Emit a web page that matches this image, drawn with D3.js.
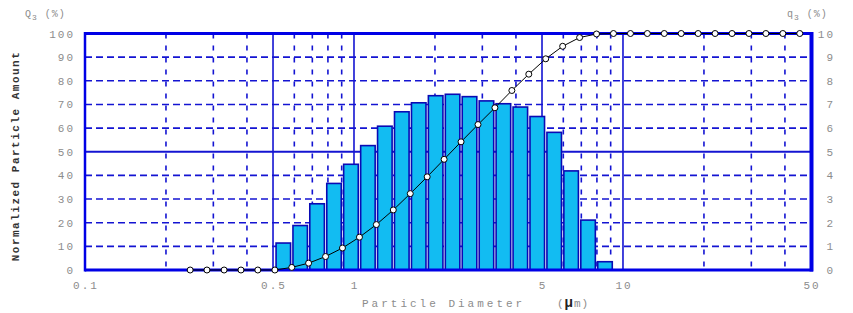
<!DOCTYPE html>
<html>
<head>
<meta charset="utf-8">
<script src="https://cdn.jsdelivr.net/npm/d3@7"></script>
<style>
html,body{margin:0;padding:0;background:#fff;}
svg{display:block;}
</style>
</head>
<body>
<svg id="chart" width="853" height="313"></svg>
<script>
// ---- data ----
// bin edges (µm) where the cumulative points sit
const binEdges = [0.246,0.284,0.329,0.380,0.439,0.508,0.587,0.678,0.784,0.906,
  1.048,1.211,1.400,1.619,1.871,2.163,2.500,2.891,3.341,3.863,
  4.465,5.162,5.967,6.898,7.974,9.218,10.66,12.32,14.24,16.46,
  19.03,22.00,25.43,29.40,33.98,39.29,45.41];
// cumulative Q3 (%) at each edge
const cumulativeQ3 = [0,0,0,0,0,0,1.1,2.9,5.7,9.3,
  13.9,19.2,25.4,32.3,39.4,46.8,54.2,61.5,68.6,75.9,
  82.8,89.3,94.6,98.3,99.8,100,100,100,100,100,
  100,100,100,100,100,100,100];
// histogram bins: lower / upper edge and q3 (%) value (right axis 0-10)
const barLower = [0.508,0.587,0.678,0.784,0.906,1.048,1.211,1.400,1.619,1.871,
  2.163,2.500,2.891,3.341,3.863,4.465,5.162,5.967,6.898,7.974];
const barUpper = [0.587,0.678,0.784,0.906,1.048,1.211,1.400,1.619,1.871,2.163,
  2.500,2.891,3.341,3.863,4.465,5.162,5.967,6.898,7.974,9.218];
const barQ3 = [1.14,1.88,2.80,3.66,4.47,5.26,6.08,6.69,7.07,7.37,
  7.43,7.33,7.15,7.03,6.89,6.49,5.82,4.19,2.11,0.35];
// axes
const xTickValues = [0.1,0.5,1,5,10,50];
const xTickLabels = ["0.1","0.5","1","5","10","50"];
const xSolidGrid = [0.5,1,5,10];
const xDashGrid = [0.2,0.3,0.4,0.6,0.7,0.8,0.9,2,3,4,6,7,8,9,20,30,40];
const yLeftTicks = [0,10,20,30,40,50,60,70,80,90,100];
const yRightTicks = [0,1,2,3,4,5,6,7,8,9,10];
const ySolidGrid = [50];
const yDashGrid = [10,20,30,40,60,70,80,90];

// ---- layout ----
const L = 85, R = 811, T = 33.5, B = 270;
const x = d3.scaleLog().domain([0.1,50]).range([L,R]);
const y = d3.scaleLinear().domain([0,100]).range([B,T]);
const yR = d3.scaleLinear().domain([0,10]).range([B,T]);

const svg = d3.select("#chart");
const gridColor = "#1414d2";
const mono = "'Liberation Mono','DejaVu Sans Mono',monospace";
const textGrey = "#8c8c8c";

// grid
const g = svg.append("g");
g.selectAll("line.vd").data(xDashGrid).enter().append("line")
  .attr("x1",d=>x(d)).attr("x2",d=>x(d)).attr("y1",T).attr("y2",B)
  .attr("stroke",gridColor).attr("stroke-width",1.6).attr("stroke-dasharray","5,7");
g.selectAll("line.hd").data(yDashGrid).enter().append("line")
  .attr("x1",L).attr("x2",R).attr("y1",d=>y(d)).attr("y2",d=>y(d))
  .attr("stroke",gridColor).attr("stroke-width",1.6).attr("stroke-dasharray","7,4");
g.selectAll("line.vs").data(xSolidGrid).enter().append("line")
  .attr("x1",d=>x(d)).attr("x2",d=>x(d)).attr("y1",T).attr("y2",B)
  .attr("stroke",gridColor).attr("stroke-width",1.6);
g.selectAll("line.hs").data(ySolidGrid).enter().append("line")
  .attr("x1",L).attr("x2",R).attr("y1",d=>y(d)).attr("y2",d=>y(d))
  .attr("stroke",gridColor).attr("stroke-width",1.8);

// bars
const bars = barQ3.map((v,i)=>({lo:barLower[i],hi:barUpper[i],v}));
svg.append("g").selectAll("rect").data(bars).enter().append("rect")
  .attr("x",d=>x(d.lo)+1.2)
  .attr("width",d=>x(d.hi)-x(d.lo)-2.4)
  .attr("y",d=>yR(d.v))
  .attr("height",d=>B-yR(d.v))
  .attr("fill","#12bcf2")
  .attr("stroke","#0a0ab4").attr("stroke-width",1.6);

// border
svg.append("line").attr("x1",L).attr("x2",L).attr("y1",T-1.5).attr("y2",B+1.5)
  .attr("stroke","#0000e6").attr("stroke-width",2.5);
svg.append("line").attr("x1",L).attr("x2",R+2).attr("y1",T).attr("y2",T)
  .attr("stroke","#0000e6").attr("stroke-width",3);
svg.append("line").attr("x1",L).attr("x2",R+2).attr("y1",B).attr("y2",B)
  .attr("stroke","#0000e6").attr("stroke-width",3);
svg.append("line").attr("x1",R+0.5).attr("x2",R+0.5).attr("y1",T-1.5).attr("y2",B+1.5)
  .attr("stroke","#0000e6").attr("stroke-width",4);

// cumulative curve
const pts = binEdges.map((e,i)=>({e,v:cumulativeQ3[i]}));
svg.append("path").datum(pts)
  .attr("d",d3.line().x(d=>x(d.e)).y(d=>y(d.v)))
  .attr("fill","none").attr("stroke","#000").attr("stroke-width",1);
svg.append("g").selectAll("circle").data(pts).enter().append("circle")
  .attr("cx",d=>x(d.e)).attr("cy",d=>y(d.v)).attr("r",3)
  .attr("fill","#fff").attr("stroke","#000").attr("stroke-width",1);

// tick labels
const tl = svg.append("g").attr("font-family",mono).attr("font-size","11px")
  .attr("fill",textGrey).attr("letter-spacing","2px");
tl.selectAll("text.yl").data(yLeftTicks).enter().append("text")
  .attr("x",75).attr("y",d=>y(d)+4).attr("text-anchor","end").text(d=>d);
tl.selectAll("text.yr").data(yRightTicks).enter().append("text")
  .attr("x",835).attr("y",d=>yR(d)+4).attr("text-anchor","end").text(d=>d);
tl.selectAll("text.x").data(xTickValues).enter().append("text")
  .attr("x",(d,i)=>x(d)+1).attr("y",289).attr("text-anchor","middle")
  .text((d,i)=>xTickLabels[i]);

// axis titles
svg.append("text")
  .attr("transform","translate(19,156) rotate(-90)")
  .attr("text-anchor","middle").attr("font-family",mono)
  .attr("font-size","11px").attr("font-weight","bold").attr("letter-spacing","1.5px")
  .attr("fill","#333").text("Normalized Particle Amount");

const xt = svg.append("text").attr("y",307).attr("font-family",mono)
  .attr("font-size","11px").attr("fill",textGrey).attr("letter-spacing","3px");
xt.append("tspan").attr("x",362).text("Particle Diameter");
const um = svg.append("text").attr("x",557).attr("y",307).attr("font-family",mono)
  .attr("font-size","11px").attr("fill",textGrey).attr("letter-spacing","1px");
um.append("tspan").text("(");
um.append("tspan").attr("font-weight","bold").attr("font-size","14px").attr("fill","#222").text("μ");
um.append("tspan").text("m)");

// Q3 / q3 labels
const q1 = svg.append("text").attr("x",25).attr("y",17).attr("font-family",mono)
  .attr("font-size","10px").attr("fill",textGrey).attr("letter-spacing","1px");
q1.append("tspan").text("Q");
q1.append("tspan").attr("dy",3).attr("font-size","8px").text("3");
q1.append("tspan").attr("dy",-3).text(" (%)");
const q2 = svg.append("text").attr("x",787).attr("y",17).attr("font-family",mono)
  .attr("font-size","10px").attr("fill",textGrey).attr("letter-spacing","1px");
q2.append("tspan").text("q");
q2.append("tspan").attr("dy",3).attr("font-size","8px").text("3");
q2.append("tspan").attr("dy",-3).text(" (%)");
</script>
</body>
</html>
